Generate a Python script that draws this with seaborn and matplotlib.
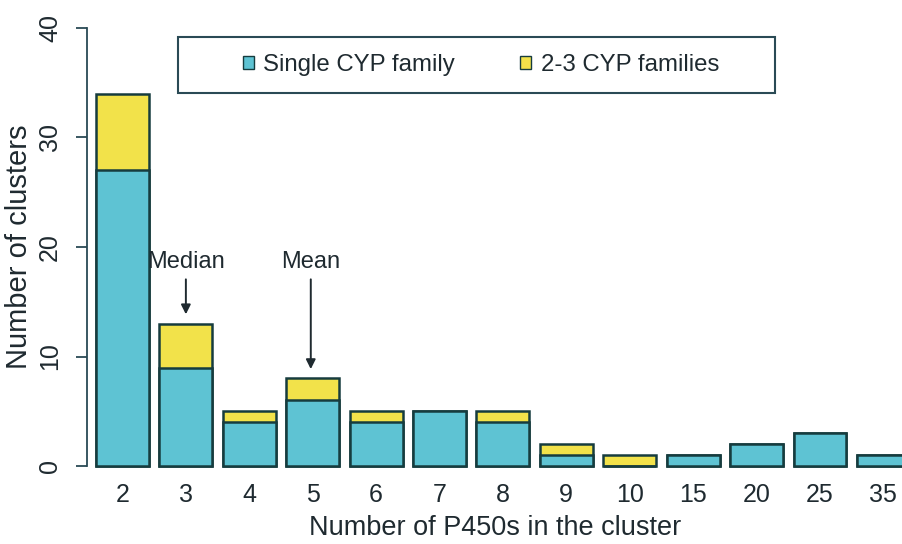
import matplotlib
matplotlib.use('Agg')
import matplotlib.pyplot as plt
import matplotlib.patches as mpatches
import seaborn as sns
import pandas as pd

# cluster sizes and counts
sizes = ['2', '3', '4', '5', '6', '7', '8', '9', '10', '15', '20', '25', '35']
single_family = [27, 9, 4, 6, 4, 5, 4, 1, 0, 1, 2, 3, 1]
multi_family = [7, 4, 1, 2, 1, 0, 1, 1, 1, 0, 0, 0, 0]

teal = '#5ec3d3'
yellow = '#f2e24a'
edge = '#163c3e'
ink = '#1f2a30'

df = pd.DataFrame({'size': sizes, 'single': single_family, 'multi': multi_family})
df['total'] = df['single'] + df['multi']

sns.set_style('ticks')
plt.rcParams['font.family'] = ['Liberation Sans', 'DejaVu Sans']

fig = plt.figure(figsize=(9.03, 5.44), dpi=100)
ax = fig.add_axes([0.0963, 0.123, 0.9037, 0.846])

# stacked bars: total in yellow, single family drawn over it
sns.barplot(x='size', y='total', data=df, order=sizes, color=yellow,
            edgecolor=edge, linewidth=1.8, width=0.833, saturation=1, ax=ax)
sns.barplot(x='size', y='single', data=df, order=sizes, color=teal,
            edgecolor=edge, linewidth=1.8, width=0.833, saturation=1, ax=ax)

ax.set_xlim(-0.56, 12.31)
ax.set_ylim(-1, 41)
ax.set_yticks([0, 10, 20, 30, 40])
ax.spines['left'].set_bounds(0, 40)
ax.spines['left'].set_color('#2a4a55')
ax.spines['left'].set_linewidth(1.3)
for s in ['top', 'right', 'bottom']:
    ax.spines[s].set_visible(False)
ax.tick_params(axis='y', length=8, width=1.3, color='#2a4a55', labelsize=18,
               labelrotation=90, pad=10, labelcolor=ink)
for lab in ax.get_yticklabels():
    lab.set_va('center')
ax.tick_params(axis='x', length=0, labelsize=18, pad=4, labelcolor=ink)

ax.set_xlabel('Number of P450s in the cluster', fontsize=19.5, color=ink, labelpad=6)
ax.set_ylabel('Number of clusters', fontsize=21, color=ink)
ax.yaxis.set_label_coords(-0.066, 0.5)

arrow = dict(arrowstyle='-|>', color=ink, lw=1.4, mutation_scale=14)
ax.annotate('', xy=(1, 13.6), xytext=(1, 17.3), arrowprops=arrow)
ax.text(1, 18.6, 'Median', ha='center', va='center', fontsize=17, color=ink)
ax.annotate('', xy=(2.97, 8.6), xytext=(2.97, 17.3), arrowprops=arrow)
ax.text(2.97, 18.6, 'Mean', ha='center', va='center', fontsize=17, color=ink)

# legend box frame drawn separately so its padding matches the reference
frame = mpatches.Rectangle((178 / 903, 1 - 93 / 544), 597 / 903, 56 / 544,
                           transform=fig.transFigure, facecolor='white',
                           edgecolor='#2a4a55', linewidth=1.5, zorder=5, clip_on=False)
ax.add_patch(frame)
handles = [mpatches.Patch(facecolor=teal, edgecolor=edge, label='Single CYP family'),
           mpatches.Patch(facecolor=yellow, edgecolor=edge, label='2-3 CYP families')]
leg = ax.legend(handles=handles, ncol=2, loc='center', bbox_to_anchor=(481 / 903, 1 - 65 / 544),
                bbox_transform=fig.transFigure, fontsize=17.3, frameon=False,
                handlelength=0.45, handleheight=0.45, handletextpad=0.4, columnspacing=2.7,
                borderaxespad=0)
leg.set_zorder(6)
for t in leg.get_texts():
    t.set_color(ink)

fig.savefig('out.png', dpi=100)
